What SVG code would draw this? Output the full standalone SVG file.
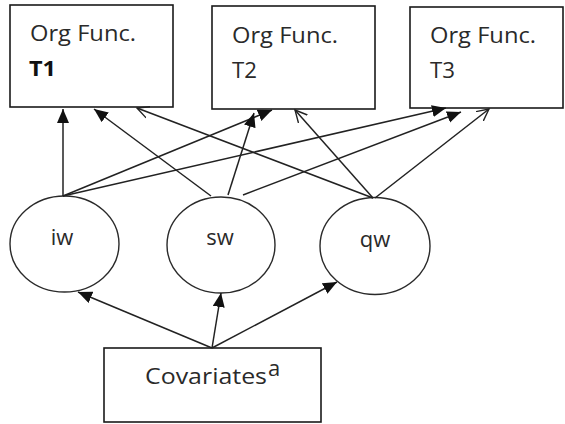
<svg xmlns="http://www.w3.org/2000/svg" width="565" height="424" viewBox="0 0 565 424">
<style>
.box{fill:#fff;stroke:#1a1a1a;stroke-width:1.6}
.ell{fill:#fff;stroke:#2a2a2a;stroke-width:1.4}
.t{font-family:"Open Sans","Liberation Sans",sans-serif;font-size:22px;fill:#2a2a2a}
.b{font-weight:bold;fill:#111}
.c line{stroke:#222;stroke-width:1.5}
.f{marker-end:url(#fa)}
.o{marker-end:url(#oa)}
</style>
<defs>
<marker id="fa" markerUnits="userSpaceOnUse" markerWidth="15" markerHeight="13" refX="14" refY="6" orient="auto" viewBox="0 0 15 13">
<path d="M0,0 L14,6 L0,12 z" fill="#111"/>
</marker>
<marker id="oa" markerUnits="userSpaceOnUse" markerWidth="14" markerHeight="14" refX="12" refY="6" orient="auto" viewBox="0 0 14 12">
<path d="M0,0 L12,6 L0,12" fill="none" stroke="#222" stroke-width="1.4"/>
</marker>
</defs>
<rect width="565" height="424" fill="#fff"/>
<g id="T1"><rect class="box" x="10" y="5" width="163" height="102"/><text class="t" x="30" y="41" textLength="106" lengthAdjust="spacingAndGlyphs">Org Func.</text><text class="t b" x="29" y="76" textLength="27" lengthAdjust="spacingAndGlyphs">T1</text></g>
<g id="T2"><rect class="box" x="212" y="6" width="163" height="103"/><text class="t" x="232" y="43" textLength="106" lengthAdjust="spacingAndGlyphs">Org Func.</text><text class="t" x="232" y="78" textLength="25" lengthAdjust="spacingAndGlyphs">T2</text></g>
<g id="T3"><rect class="box" x="410" y="7" width="153" height="101"/><text class="t" x="430" y="43" textLength="106" lengthAdjust="spacingAndGlyphs">Org Func.</text><text class="t" x="430" y="78" textLength="25" lengthAdjust="spacingAndGlyphs">T3</text></g>
<g id="iw"><ellipse class="ell" cx="64.5" cy="244" rx="54.5" ry="48"/><text class="t" x="62" y="245" text-anchor="middle">iw</text></g>
<g id="sw"><ellipse class="ell" cx="221" cy="245" rx="54" ry="48"/><text class="t" x="220" y="245" text-anchor="middle">sw</text></g>
<g id="qw"><ellipse class="ell" cx="375" cy="246" rx="55" ry="48.5"/><text class="t" x="375" y="247" text-anchor="middle">qw</text></g>
<g id="Covariates"><rect class="box" x="104" y="348" width="217" height="74"/><text class="t" x="145" y="384" textLength="122" lengthAdjust="spacingAndGlyphs">Covariates</text><text class="t" x="268" y="376" font-size="14">a</text></g>
<g class="c" id="connectors">
<line class="f" x1="63" y1="196" x2="63" y2="109"/>
<line class="f" x1="63" y1="196" x2="272" y2="110"/>
<line class="f" x1="63" y1="196" x2="446" y2="108"/>
<line class="f" x1="211" y1="196" x2="94" y2="109"/>
<line class="f" x1="228" y1="195" x2="254" y2="113"/>
<line class="f" x1="243" y1="195" x2="461" y2="112"/>
<line class="o" x1="373" y1="198" x2="137" y2="108"/>
<line class="o" x1="373" y1="198" x2="295" y2="110"/>
<line class="o" x1="375" y1="198" x2="489" y2="109"/>
<line class="f" x1="212" y1="348" x2="78" y2="292"/>
<line class="f" x1="212" y1="348" x2="221" y2="293"/>
<line class="f" x1="212" y1="348" x2="337" y2="282"/>
</g>
</svg>
